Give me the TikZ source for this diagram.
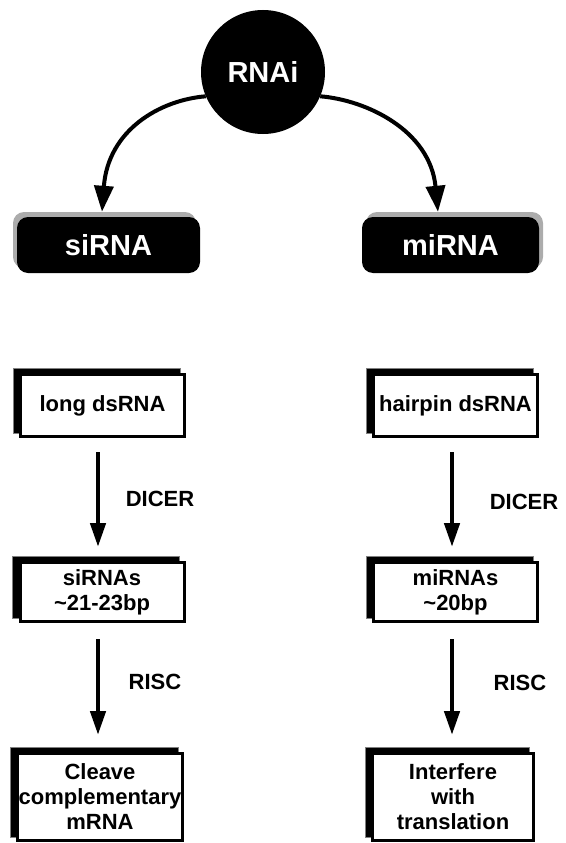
\documentclass[tikz,border=0pt]{standalone}
\usepackage{fontspec}
\setmainfont{Liberation Sans}
\usetikzlibrary{arrows.meta,backgrounds,calc}
\tikzset{
  stepbox/.style={draw=black, fill=white, line width=3pt, minimum width=164pt, align=center,
    font=\fontsize{22}{25}\selectfont\bfseries, inner sep=1pt},
  headbox/.style={fill=black, text=white, rounded corners=11pt, minimum width=183pt, minimum height=56pt,
    font=\fontsize{29}{32}\selectfont\bfseries},
  varrow/.style={line width=4.5pt, -{Triangle[length=24pt,width=15pt]}},
  carrow/.style={line width=4pt, -{Triangle[length=26pt,width=19pt]}},
  lbl/.style={font=\fontsize{22}{24}\selectfont\bfseries}
}
\begin{document}
\begin{tikzpicture}[x=1pt,y=-1pt]
\useasboundingbox (0,0) rectangle (565,843);
% root
\node[circle, fill=black, minimum size=124pt, text=white, font=\fontsize{29}{32}\selectfont\bfseries] (rnai) at (263,72) {RNAi};
% head boxes
\fill[gray!65, rounded corners=11pt] (13,212) rectangle (196,268);
\node[headbox] (sirna) at (108.5,245) {siRNA};
\fill[gray!65, rounded corners=11pt] (366,212) rectangle (543,268);
\node[headbox, minimum width=177pt] (mirna) at (450.5,245) {miRNA};
% step boxes
\node[stepbox, minimum height=62pt] (long) at (102.5,405.5) {long dsRNA};
\node[stepbox, minimum height=59pt] (sirnas) at (102,592) {siRNAs\\\textasciitilde21-23bp};
\node[stepbox, minimum height=87pt] (cleave) at (100,797) {Cleave\\complementary\\mRNA};
\node[stepbox, minimum height=62pt] (hairpin) at (455.5,405.5) {hairpin dsRNA};
\node[stepbox, minimum height=59pt] (mirnas) at (455.5,592) {miRNAs\\\textasciitilde20bp};
\node[stepbox, minimum height=87pt, minimum width=161pt] (interfere) at (453,797) {Interfere\\with\\translation};
\begin{scope}[on background layer]
  \foreach \n in {long,sirnas,cleave,hairpin,mirnas,interfere}{
    \fill[black, draw=gray, line width=0.6pt] ([xshift=-6pt,yshift=5pt]\n.south west) rectangle ([xshift=-6pt,yshift=5pt]\n.north east);
  }
\end{scope}
% curved arrows
\draw[carrow] (rnai.203) .. controls (160,100) and (108,130) .. ([xshift=-6.5pt,yshift=5pt]sirna.north);
\draw[carrow] (rnai.337) .. controls (366,100) and (430,130) .. ([xshift=-12.5pt,yshift=5pt]mirna.north);
% vertical arrows
\draw[varrow] ([xshift=-4.5pt,yshift=-14pt]long.south) -- ([xshift=-4pt,yshift=14pt]sirnas.north);
\draw[varrow] ([xshift=-4pt,yshift=-16pt]sirnas.south) -- ([xshift=-2pt,yshift=17pt]cleave.north);
\draw[varrow] ([xshift=-3.5pt,yshift=-14pt]hairpin.south) -- ([xshift=-3.5pt,yshift=14pt]mirnas.north);
\draw[varrow] ([xshift=-3.5pt,yshift=-16pt]mirnas.south) -- ([xshift=-1pt,yshift=17pt]interfere.north);
% labels
\node[lbl] (d1) at (160,499) {DICER};
\node[lbl] (d2) at (524,502) {DICER};
\node[lbl] (r1) at (155,682) {RISC};
\node[lbl] (r2) at (520,683) {RISC};
\end{tikzpicture}
\end{document}
